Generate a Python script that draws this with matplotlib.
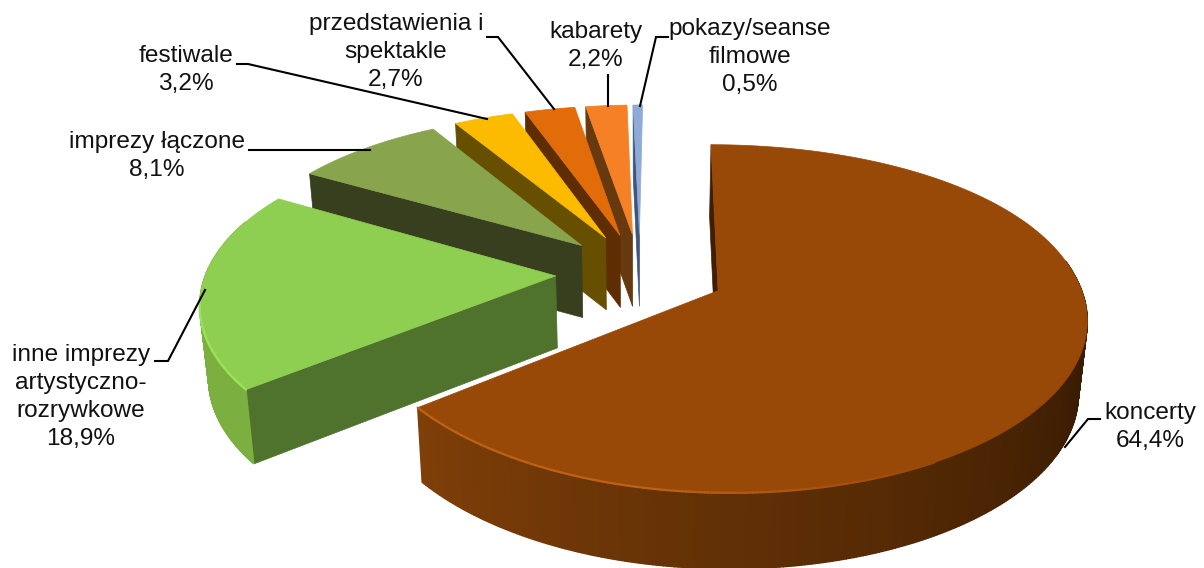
import numpy as np
import matplotlib
matplotlib.use('Agg')
import matplotlib.pyplot as plt
from matplotlib.colors import to_rgb
plt.rcParams['font.family'] = ['Liberation Sans', 'DejaVu Sans']

categories = ['koncerty', 'inne imprezy\nartystyczno-\nrozrywkowe', 'imprezy łączone', 'festiwale',
              'przedstawienia i\nspektakle', 'kabarety', 'pokazy/seanse\nfilmowe']
values = [64.4, 18.9, 8.1, 3.2, 2.7, 2.2, 0.5]
value_labels = ['64,4%', '18,9%', '8,1%', '3,2%', '2,7%', '2,2%', '0,5%']
top_colors = ['#984807', '#8ecf51', '#88a54e', '#fdbb00', '#e26b0a', '#f58025', '#8faad8']
face_colors = ['#3f1e03', '#4f722c', '#373f1f', '#665000', '#5f2d03', '#66390f', '#3e5478']
wall_dark = ['#3a1c03', '#7bb041', '#5f7a35', '#665000', '#5f2d03', '#66390f', '#3e5478']
wall_light = ['#7f3f08', '#7bb041', '#5f7a35', '#665000', '#5f2d03', '#66390f', '#3e5478']
rim_colors = ['#bd6114', '#9ae25a', None, None, None, None, None]
label_xy = [(1150, 427), (81, 397), (157, 156), (186, 70), (396, 52), (596, 46), (750, 57)]
leaders = [[(1065, 447), (1088, 419), (1100, 419)],
           [(205, 290), (168, 361), (155, 361)],
           [(249, 150), (370, 150)],
           [(237, 64), (248, 64), (487, 119)],
           [(487, 37), (498, 37), (554, 109)],
           [(608, 75), (608, 106)],
           [(668, 37), (656, 37), (640, 106)]]

#projection of the pie plane to the picture, in pixels
cx, cy = 640, 273
b = 166
e = 0.24
h = 72

def proj(u, v, low=False):
    u = np.asarray(u, dtype=float)
    v = np.asarray(v, dtype=float)
    sx = 1/(1-0.14*v)
    sy = 1/(1-(0.175-0.025*np.tanh(3*v))*v)
    a = 354 + 4*np.tanh(3*u)
    x = cx + a*sx*u - 3*np.minimum(v, 0)
    y = cy + b*sy*v + 2.5*np.minimum(v, 0)
    if low:
        x = cx + (x-cx)*0.98
        y = y + h*(1+0.05*np.maximum(v, 0))
    return x, y

def mix(c1, c2, t):
    return tuple((1-t)*p + t*q for p, q in zip(to_rgb(c1), to_rgb(c2)))

fig = plt.figure(figsize=(12.04, 5.68), dpi=100)
ax = fig.add_axes([0, 0, 1, 1])
ax.set_xlim(0, 1204)
ax.set_ylim(568, 0)
ax.axis('off')

ends = np.cumsum(values)/np.sum(values)*360
starts = ends - np.array(values)/np.sum(values)*360

#back slices first
for i in range(len(values)-1, -1, -1):
    t0, t1 = starts[i], ends[i]
    m = np.radians((t0+t1)/2)
    du, dv = e*np.sin(m), -e*np.cos(m)
    th = np.radians(np.linspace(t0, t1, max(int(t1-t0)*2, 4)))
    u = du + np.sin(th)
    v = dv - np.cos(th)

    #side face of the cut at the start angle
    x1, y1 = proj(du, dv)
    x2, y2 = proj(u[0], v[0])
    x3, y3 = proj(u[0], v[0], low=True)
    x4, y4 = proj(du, dv, low=True)
    ax.fill([x1, x2, x3, x4], [y1, y2, y3, y4], color=face_colors[i], lw=0.5, zorder=10-i)

    #outer wall
    for j in range(len(th)-1):
        deg = np.degrees((th[j]+th[j+1])/2)
        if deg < 80 or deg > 290:
            continue
        f = np.clip((deg-110)/122, 0, 1)
        c = mix(wall_dark[i], wall_light[i], f)
        xa, ya = proj(u[j], v[j])
        xb, yb = proj(u[j+1], v[j+1])
        xc, yc = proj(u[j+1], v[j+1], low=True)
        xd, yd = proj(u[j], v[j], low=True)
        ax.fill([xa, xb, xc, xd], [ya, yb, yc, yd], color=c, lw=1.0, zorder=10-i)

    #top
    xt, yt = proj(np.r_[du, u], np.r_[dv, v])
    ax.fill(xt, yt, color=top_colors[i], lw=0.5, zorder=10-i)

    #light rim on the front edge
    if rim_colors[i]:
        for j in range(len(th)-1):
            deg = np.degrees(th[j])
            if deg < 150 or deg > 262:
                continue
            fade = np.clip((deg-150)/40, 0, 1)
            c = mix(top_colors[i], rim_colors[i], fade)
            xa, ya = proj(u[j:j+2], v[j:j+2])
            ax.plot(xa, ya, color=c, lw=1.6, solid_capstyle='round', zorder=10-i)

for i in range(len(values)):
    xs, ys = zip(*leaders[i])
    ax.plot(xs, ys, color='black', lw=1.5, zorder=20, solid_joinstyle='miter')
    ax.text(label_xy[i][0], label_xy[i][1], categories[i] + '\n' + value_labels[i], ha='center', va='center',
            fontsize=17.6, linespacing=1.34, color='#111111', zorder=21)

plt.savefig('out.png', dpi=100)
